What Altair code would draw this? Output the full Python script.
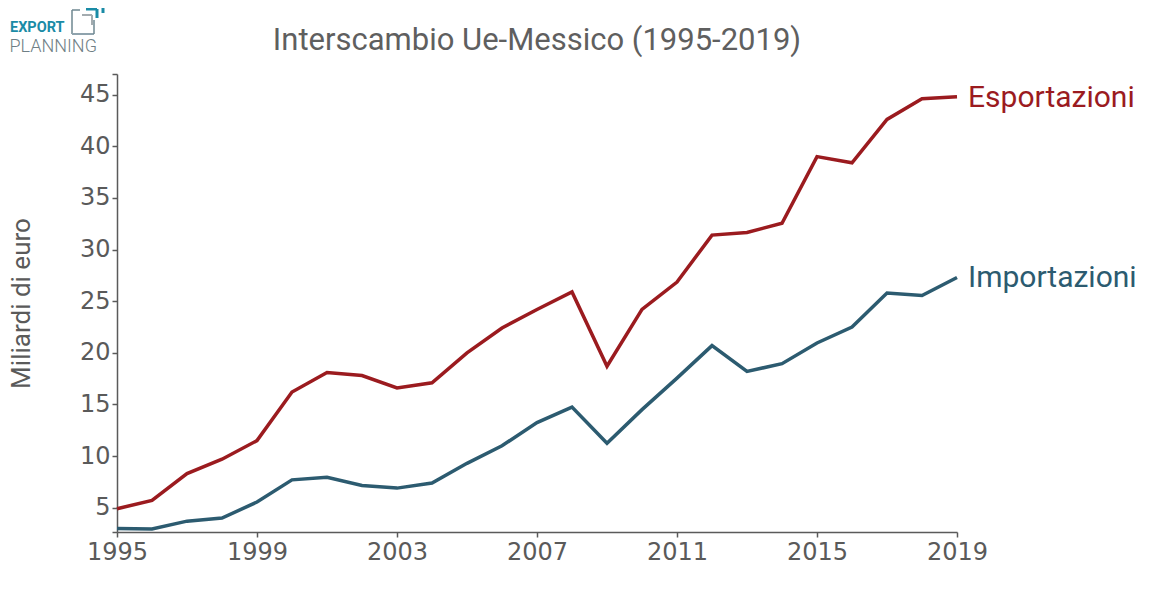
import altair as alt
import pandas as pd

years = list(range(1995, 2020))
esportazioni = [4.9, 5.7, 8.3, 9.7, 11.5, 16.2, 18.1, 17.8, 16.6, 17.1, 20.0, 22.4, 24.2,
                25.9, 18.7, 24.2, 26.85, 31.4, 31.65, 32.55, 39.0, 38.4, 42.6, 44.6, 44.8]
importazioni = [3.0, 2.95, 3.7, 4.0, 5.55, 7.7, 7.95, 7.15, 6.9, 7.4, 9.3, 11.0, 13.25,
                14.75, 11.25, 14.5, 17.55, 20.7, 18.2, 18.95, 20.95, 22.5, 25.8, 25.55, 27.3]
series_names = ["Esportazioni", "Importazioni"]
series_colors = ["#9b1b1f", "#2c5b70"]
x_ticks = list(range(1995, 2020, 4))
y_ticks = [2.65] + list(range(5, 50, 5)) + [47]
title_text = "Interscambio Ue-Messico (1995-2019)"

rows = []
for name, vals in zip(series_names, [esportazioni, importazioni]):
    for yr, v in zip(years, vals):
        rows.append({"anno": yr, "valore": v, "serie": name})
df = pd.DataFrame(rows)

axis_common = dict(
    labelFont="DejaVu Sans", labelFontSize=24, labelColor="#5a5a5a",
    domainColor="#5a5a5a", domainWidth=1.5, tickColor="#5a5a5a", tickWidth=1.5,
    tickSize=5, grid=False,
)

x = alt.X("anno:Q", scale=alt.Scale(domain=[1995, 2019], nice=False, zero=False),
          axis=alt.Axis(values=x_ticks, format="d", title=None, labelPadding=3,
                        labelFlush=False, labelOverlap=False, **axis_common))
y = alt.Y("valore:Q", scale=alt.Scale(domain=[2.65, 47], nice=False, zero=False),
          axis=alt.Axis(values=y_ticks, labelExpr="datum.value % 5 == 0 ? datum.label : ''",
                        title="Miliardi di euro", titleFont="Roboto", titleFontSize=26,
                        titleFontWeight="normal", titleColor="#5a5a5a",
                        titleX=-88, titleY=229, titleAngle=-90, titleBaseline="alphabetic",
                        titleAlign="center", labelPadding=2, labelOverlap=False,
                        labelFlush=False, **axis_common))
color = alt.Color("serie:N", scale=alt.Scale(domain=series_names, range=series_colors),
                  legend=None)

base = alt.Chart(df)
lines = base.mark_line(strokeWidth=3.5).encode(x=x, y=y, color=color)
labels = base.transform_filter("datum.anno == 2019").mark_text(
    align="left", baseline="middle", dx=11, dy=1, font="Roboto", fontSize=30
).encode(x=x, y=y, text="serie:N", color=color)

deco = alt.Data(values=[{"k": 1}])
title_mark = alt.Chart(deco).mark_text(
    align="center", baseline="alphabetic", font="Roboto", fontSize=31, color="#5f5f5f"
).encode(x=alt.value(420), y=alt.value(-24), text=alt.value(title_text))
logo_export = alt.Chart(deco).mark_text(
    align="left", baseline="alphabetic", font="Roboto", fontWeight="bold",
    fontSize=14.5, color="#1a8ba6"
).encode(x=alt.value(-107), y=alt.value(-42), text=alt.value("EXPORT"))
logo_planning = alt.Chart(deco).mark_text(
    align="left", baseline="alphabetic", font="Roboto", fontWeight=300,
    fontSize=18, color="#6f7f86"
).encode(x=alt.value(-107.5), y=alt.value(-22), text=alt.value("PLANNING"))

# icon segments: (x1, y1, x2, y2, colour, width) in page pixels, shifted by plot origin (117, 74)
ox, oy = 117, 74
segs = [
    (72, 10, 72, 34, "#6e8791", 1.5),
    (72, 10, 80, 10, "#6e8791", 1.5),
    (72, 34, 94, 34, "#8fa3ad", 2),
    (94, 20, 94, 34, "#6e8791", 1.5),
    (82, 15, 92, 15, "#a3abaf", 2),
    (92, 15, 92, 25, "#a3abaf", 2),
    (86, 9, 97, 9, "#1a8ba6", 3),
    (97, 9, 97, 18, "#1a8ba6", 3),
    (92, 4, 103, 4, "#1a8ba6", 3),
    (103, 4, 103, 13, "#1a8ba6", 3),
]
icon_layers = []
for x1, y1, x2, y2, c, w in segs:
    icon_layers.append(
        alt.Chart(deco).mark_rule(color=c, strokeWidth=w).encode(
            x=alt.value(x1 - ox), x2=alt.value(x2 - ox),
            y=alt.value(y1 - oy), y2=alt.value(y2 - oy))
    )

chart = alt.layer(lines, labels, title_mark, logo_export, logo_planning, *icon_layers).properties(
    width=840, height=458,
    background="white",
    autosize=alt.AutoSizeParams(type="none"),
    padding={"left": 109, "top": 66, "right": 206, "bottom": 67},
).configure_view(strokeWidth=0, stroke=None)

chart.save("out.html", embed_options={"renderer": "svg", "actions": False})
